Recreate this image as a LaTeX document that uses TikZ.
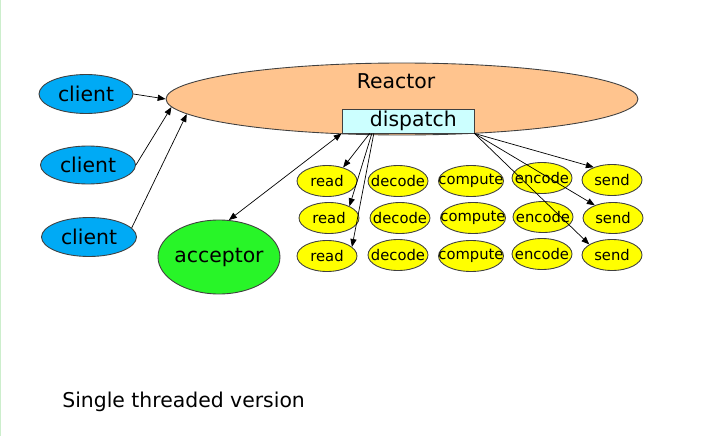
\documentclass[tikz,border=0pt]{standalone}
\usepackage{fontspec}
\setmainfont{DejaVu Sans}
\usetikzlibrary{shapes.geometric,arrows.meta}
\definecolor{reactorpeach}{RGB}{255,196,142}
\definecolor{dispatchcyan}{RGB}{204,255,255}
\definecolor{clientblue}{RGB}{0,170,245}
\definecolor{acceptorgreen}{RGB}{40,245,40}
\definecolor{jobyellow}{RGB}{255,255,0}
\definecolor{edgegreen}{RGB}{204,238,204}

\begin{document}
\begin{tikzpicture}[x=0.02cm, y=-0.02cm,
	part/.style={draw=black!75, line width=0.5pt, ellipse, inner sep=0pt, font=\fontsize{11.6}{14}\selectfont,
		execute at begin node={\hbox to 0pt\bgroup\hss}, execute at end node={\hss\egroup}},
	job/.style={part, fill=jobyellow, minimum width=1.2cm, minimum height=0.62cm, font=\fontsize{8.4}{10}\selectfont},
	link/.style={line width=0.4pt, -{Triangle[length=4.5pt,width=3.5pt]}}]
			%%%%% START %%%%%
			
			\useasboundingbox (0, 0) rectangle (714, 436);
			\draw[color=edgegreen, line width=0.6pt] (0.5, 0) -- (0.5, 436);
			
			\node[part, fill=reactorpeach, minimum width=9.44cm, minimum height=1.44cm] (reactor) at (402, 99) {};
			\node[font=\fontsize{11.6}{14}\selectfont] (reactortext) at (396, 81) {Reactor};
			\node[draw=black!75, line width=0.5pt, fill=dispatchcyan, inner sep=0pt, minimum width=2.64cm, minimum height=0.48cm, font=\fontsize{11.6}{14}\selectfont] (dispatch) at (408, 121) {\hspace{6pt}dispatch};
			
			\node[part, fill=clientblue, minimum width=1.88cm, minimum height=0.78cm] (c1) at (86, 94) {client};
			\node[part, fill=clientblue, minimum width=1.9cm, minimum height=0.76cm] (c2) at (88, 165) {client};
			\node[part, fill=clientblue, minimum width=1.9cm, minimum height=0.78cm] (c3) at (89, 237) {client};
			
			\node[part, fill=acceptorgreen, minimum width=2.44cm, minimum height=1.48cm] (acceptor) at (219, 257) {acceptor};
			
			\node[job] (read1) at (327, 181) {read};
			\node[job] (decode1) at (398, 181) {decode};
			\node[job, minimum width=1.3cm] (compute1) at (471, 181) {compute};
			\node[job] (encode1) at (542, 178) {encode};
			\node[job] (send1) at (612, 180) {send};
			
			\node[job] (read2) at (329, 218) {read};
			\node[job] (decode2) at (400, 218) {decode};
			\node[job, minimum width=1.3cm] (compute2) at (473, 218) {compute};
			\node[job] (encode2) at (543, 217) {encode};
			\node[job] (send2) at (613, 218) {send};
			
			\node[job] (read3) at (327, 256) {read};
			\node[job] (decode3) at (398, 255) {decode};
			\node[job, minimum width=1.3cm] (compute3) at (471, 256) {compute};
			\node[job] (encode3) at (542, 254) {encode};
			\node[job] (send3) at (612, 255) {send};
			
			\draw[link] (c1.east) -- (reactor.west);
			\draw[link] (c2.east) -- (reactor.182.3);
			\draw[link] (c3.12) -- (reactor.184);
			
			\draw[link, {Triangle[length=4.5pt,width=3.5pt]}-{Triangle[length=4.5pt,width=3.5pt]}] (dispatch.south west) -- (acceptor.75);
			
			\draw[link] (dispatch.198) -- (read1.40);
			\draw[link] (dispatch.199) -- (read2.30);
			\draw[link] (dispatch.200) -- (read3.20);
			
			\draw[link] (dispatch.south east) -- (send1.145);
			\draw[link] (dispatch.south east) -- (send2.145);
			\draw[link] (dispatch.south east) -- (send3.155);
			
			\node[anchor=base west, inner sep=0pt, font=\fontsize{11.6}{14}\selectfont] (caption) at (62, 407) {Single threaded version};
			
			%%%%% END %%%%%
		\end{tikzpicture}
\end{document}
